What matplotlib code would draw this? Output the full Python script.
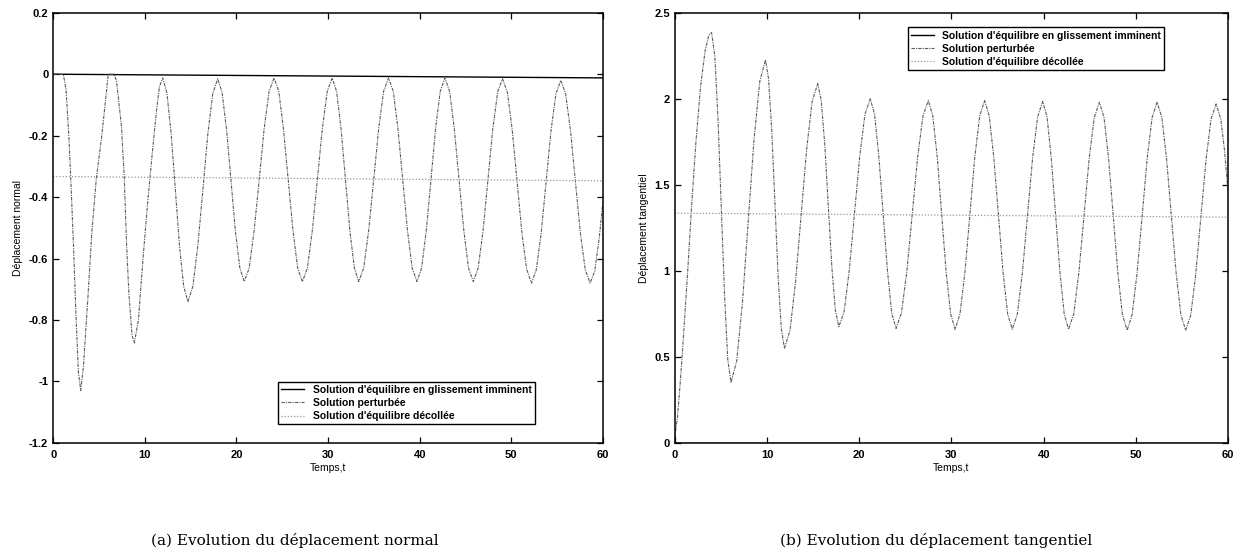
import matplotlib
matplotlib.use('Agg')
import matplotlib.pyplot as plt

# (a) normal displacement
t_normal = [0, 1.1, 1.4, 1.7, 1.9, 2.2, 2.5, 2.75, 3.0,
            3.3, 3.8, 4.2, 4.7, 5.3, 5.8, 6.0, 6.6,
            6.9, 7.45, 7.75, 8.0, 8.25, 8.6, 8.85,
            9.3, 9.8, 10.3, 10.8, 11.3, 11.6, 11.95,
            12.41, 12.87, 13.33, 13.78, 14.24, 14.7,
            15.24, 15.78, 16.33, 16.87, 17.41, 17.95,
            18.43, 18.92, 19.40, 19.88, 20.37, 20.85,
            21.39, 21.93, 22.48, 23.02, 23.56, 24.1,
            24.62, 25.13, 25.65, 26.17, 26.68, 27.2,
            27.74, 28.28, 28.83, 29.37, 29.91, 30.45,
            30.93, 31.42, 31.90, 32.38, 32.87, 33.35,
            33.89, 34.43, 34.98, 35.52, 36.06, 36.6,
            37.12, 37.63, 38.15, 38.67, 39.18, 39.7,
            40.21, 40.72, 41.23, 41.73, 42.24, 42.75,
            43.27, 43.78, 44.30, 44.82, 45.33, 45.85,
            46.38, 46.92, 47.45, 47.98, 48.52, 49.05,
            49.58, 50.10, 50.63, 51.15, 51.68, 52.2,
            52.73, 53.27, 53.80, 54.33, 54.87, 55.4,
            55.93, 56.47, 57.0, 57.53, 58.07, 58.6,
            59.1, 59.6, 60]
u_normal = [0, 0, -0.05, -0.2, -0.33, -0.55, -0.8, -0.97, -1.03,
            -0.95, -0.72, -0.52, -0.34, -0.2, -0.06, 0, 0,
            -0.02, -0.17, -0.335, -0.55, -0.71, -0.85, -0.875,
            -0.8, -0.6, -0.42, -0.26, -0.11, -0.04, -0.012,
            -0.061, -0.194, -0.376, -0.558, -0.691, -0.74,
            -0.691, -0.559, -0.378, -0.196, -0.064, -0.015,
            -0.059, -0.18, -0.345, -0.51, -0.631, -0.675,
            -0.631, -0.509, -0.344, -0.178, -0.056, -0.012,
            -0.056, -0.178, -0.344, -0.509, -0.631, -0.675,
            -0.631, -0.509, -0.344, -0.178, -0.056, -0.012,
            -0.056, -0.178, -0.344, -0.509, -0.631, -0.675,
            -0.631, -0.509, -0.344, -0.178, -0.056, -0.012,
            -0.056, -0.178, -0.344, -0.509, -0.631, -0.675,
            -0.631, -0.509, -0.344, -0.178, -0.056, -0.012,
            -0.056, -0.178, -0.344, -0.509, -0.631, -0.675,
            -0.631, -0.509, -0.344, -0.178, -0.056, -0.015,
            -0.06, -0.181, -0.348, -0.514, -0.635, -0.68,
            -0.636, -0.515, -0.35, -0.185, -0.064, -0.02,
            -0.064, -0.185, -0.35, -0.515, -0.636, -0.68,
            -0.642, -0.533, -0.415]

# (b) tangential displacement
t_tang = [0, 0.3, 0.6, 0.9, 1.4, 1.8, 2.3, 2.8, 3.3, 3.7, 4.0,
          4.35, 4.70, 5.05, 5.40, 5.75, 6.1,
          6.72, 7.35, 7.97, 8.59, 9.22, 9.84,
          10.18, 10.53, 10.87, 11.21, 11.56, 11.9,
          12.5, 13.1, 13.7, 14.3, 14.9, 15.5,
          15.88, 16.27, 16.65, 17.03, 17.42, 17.8,
          18.37, 18.93, 19.5, 20.07, 20.63, 21.2,
          21.67, 22.13, 22.6, 23.07, 23.53, 24.0,
          24.58, 25.17, 25.75, 26.33, 26.92, 27.5,
          27.98, 28.47, 28.95, 29.43, 29.92, 30.4,
          30.93, 31.47, 32.0, 32.53, 33.07, 33.6,
          34.1, 34.6, 35.1, 35.6, 36.1, 36.6,
          37.15, 37.7, 38.25, 38.8, 39.35, 39.9,
          40.37, 40.83, 41.3, 41.77, 42.23, 42.7,
          43.26, 43.82, 44.38, 44.93, 45.49, 46.05,
          46.55, 47.05, 47.55, 48.05, 48.55, 49.05,
          49.59, 50.13, 50.68, 51.22, 51.76, 52.3,
          52.82, 53.33, 53.85, 54.37, 54.88, 55.4,
          55.95, 56.5, 57.05, 57.6, 58.15, 58.7,
          59.2, 59.6, 60]
u_tang = [0.03, 0.15, 0.35, 0.58, 0.99, 1.35, 1.75, 2.07, 2.28, 2.37, 2.385,
          2.249, 1.876, 1.367, 0.859, 0.486, 0.35,
          0.476, 0.819, 1.288, 1.757, 2.10, 2.226,
          2.114, 1.807, 1.388, 0.969, 0.662, 0.55,
          0.653, 0.935, 1.319, 1.704, 1.985, 2.088,
          1.993, 1.735, 1.381, 1.028, 0.770, 0.675,
          0.764, 1.006, 1.338, 1.669, 1.911, 2.0,
          1.911, 1.666, 1.332, 0.999, 0.754, 0.665,
          0.754, 0.996, 1.328, 1.659, 1.901, 1.99,
          1.901, 1.657, 1.325, 0.992, 0.749, 0.66,
          0.749, 0.993, 1.325, 1.658, 1.901, 1.99,
          1.901, 1.657, 1.325, 0.992, 0.749, 0.66,
          0.749, 0.991, 1.323, 1.654, 1.896, 1.985,
          1.896, 1.654, 1.323, 0.991, 0.749, 0.66,
          0.748, 0.99, 1.32, 1.65, 1.892, 1.98,
          1.891, 1.649, 1.318, 0.986, 0.744, 0.655,
          0.744, 0.986, 1.318, 1.649, 1.891, 1.98,
          1.891, 1.649, 1.318, 0.986, 0.744, 0.655,
          0.743, 0.984, 1.313, 1.641, 1.882, 1.97,
          1.884, 1.705, 1.46]

# equilibrium solutions (start / end of the horizontal lines)
t_eq = [0, 60]
normal_glissement = [0, -0.012]
normal_decollee = [-0.333, -0.347]
tang_glissement = [0, 0]
tang_decollee = [1.335, 1.312]

labels = ["Solution d'équilibre en glissement imminent",
          "Solution perturbée",
          "Solution d'équilibre décollée"]
x_ticks = [0, 10, 20, 30, 40, 50, 60]
y_ticks_a = [0.2, 0, -0.2, -0.4, -0.6, -0.8, -1, -1.2]
y_labels_a = ['0.2', '0', '-0.2', '-0.4', '-0.6', '-0.8', '-1', '-1.2']
y_ticks_b = [0, 0.5, 1, 1.5, 2, 2.5]
y_labels_b = ['0', '0.5', '1', '1.5', '2', '2.5']

plt.rcParams['font.family'] = ['Liberation Sans', 'DejaVu Sans']
plt.rcParams['font.weight'] = 'bold'

fig = plt.figure(figsize=(12.38, 5.55), dpi=100)
ax1 = fig.add_axes([0.043, 0.202, 0.444, 0.775])
ax2 = fig.add_axes([0.545, 0.202, 0.447, 0.775])

pert_style = dict(color='#5a5a5a', lw=0.8, ls=(0, (3, 1, 1, 1)))
dec_style = dict(color='#959595', lw=0.9, ls=(0, (1, 1.5)))


def style_axes(ax, yticks, ylabels, ylim, ylabel, lab_x):
    ax.set_xlim(0, 60)
    ax.set_ylim(*ylim)
    ax.set_xticks(x_ticks)
    ax.set_xticklabels([str(v) for v in x_ticks])
    ax.set_yticks(yticks)
    ax.set_yticklabels(ylabels)
    ax.tick_params(direction='in', top=True, right=True, length=4,
                   width=0.9, labelsize=8)
    ax.tick_params(axis='x', pad=5)
    for s in ax.spines.values():
        s.set_linewidth(1.1)
    ax.set_xlabel('Temps,t', fontsize=7.5, labelpad=2)
    ax.set_ylabel(ylabel, fontsize=7.5)
    ax.yaxis.set_label_coords(lab_x, 0.5)


legend_kw = dict(borderaxespad=0, fontsize=7.5, fancybox=False,
                 edgecolor='black', framealpha=1, handlelength=2.2,
                 labelspacing=0.3, borderpad=0.3, handletextpad=0.8)

ax1.plot(t_eq, normal_glissement, color='black', lw=1.0, label=labels[0])
ax1.plot(t_normal, u_normal, label=labels[1], **pert_style)
ax1.plot(t_eq, normal_decollee, label=labels[2], **dec_style)
style_axes(ax1, y_ticks_a, y_labels_a, (-1.2, 0.2), 'Déplacement normal', -0.055)
ax1.legend(loc='lower right', bbox_to_anchor=(0.876, 0.043), **legend_kw)

ax2.plot(t_eq, tang_glissement, color='black', lw=1.0, label=labels[0])
ax2.plot(t_tang, u_tang, label=labels[1], **pert_style)
ax2.plot(t_eq, tang_decollee, label=labels[2], **dec_style)
style_axes(ax2, y_ticks_b, y_labels_b, (0, 2.5), 'Déplacement tangentiel', -0.046)
ax2.legend(loc='upper right', bbox_to_anchor=(0.885, 0.966), **legend_kw)

fig.text(0.238, 0.027, '(a) Evolution du déplacement normal', ha='center',
         va='center', fontsize=11, family='DejaVu Serif', weight='normal')
fig.text(0.756, 0.027, '(b) Evolution du déplacement tangentiel', ha='center',
         va='center', fontsize=11, family='DejaVu Serif', weight='normal')

fig.savefig('out.png', dpi=100)
